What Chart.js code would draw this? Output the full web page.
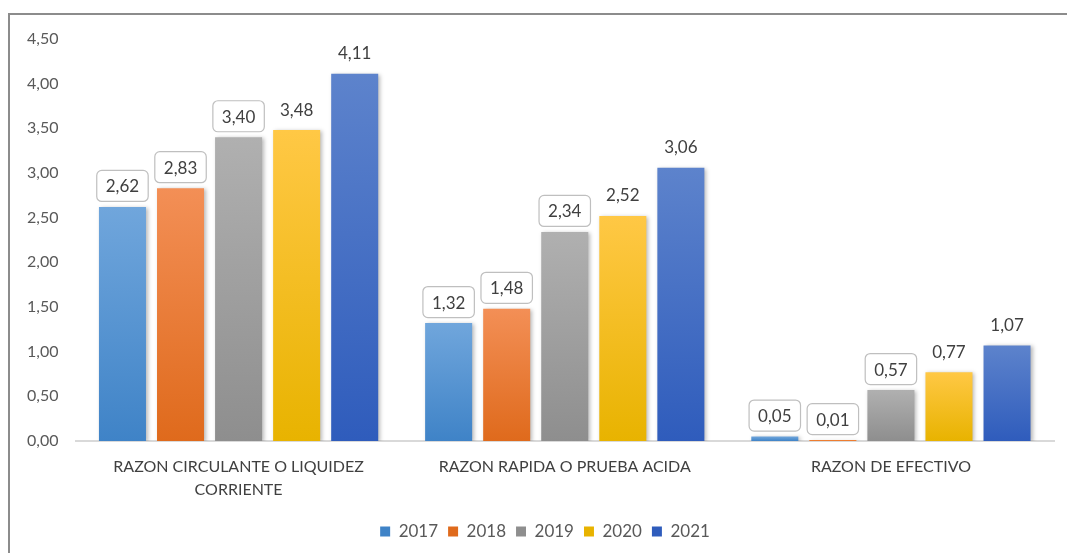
<!DOCTYPE html>
<html>
<head>
<meta charset="utf-8">
<script src="https://cdn.jsdelivr.net/npm/chart.js@4.4.1/dist/chart.umd.min.js"></script>
<style>
  html, body { margin: 0; padding: 0; background: #fff; }
  #wrap { position: relative; width: 1067px; height: 553px; overflow: hidden; }
  #marco { position: absolute; left: 8px; top: 13px; width: 1100px; height: 600px;
           border-top: 2px solid #8c8c8c; border-left: 2px solid #8c8c8c; }
  canvas { position: absolute; left: 0; top: 0; }
</style>
</head>
<body>
<div id="wrap">
  <div id="marco"></div>
  <canvas id="grafico" width="1067" height="553"></canvas>
</div>
<script>
// categorias y valores
const categorias = [
  ['RAZON CIRCULANTE O LIQUIDEZ', 'CORRIENTE'],
  'RAZON RAPIDA O PRUEBA ACIDA',
  'RAZON DE EFECTIVO'
];
const anios = ['2017', '2018', '2019', '2020', '2021'];
const v2017 = [2.62, 1.32, 0.05];
const v2018 = [2.83, 1.48, 0.01];
const v2019 = [3.40, 2.34, 0.57];
const v2020 = [3.48, 2.52, 0.77];
const v2021 = [4.11, 3.06, 1.07];
const ticksY = [0, 0.5, 1, 1.5, 2, 2.5, 3, 3.5, 4, 4.5];

// colores: base, arriba, abajo
const colores = [
  ['#5b9bd5', '#70a6dc', '#3f83c7'],
  ['#ed7d31', '#f38f56', '#df6a1c'],
  ['#a5a5a5', '#b0b0b0', '#8e8e8e'],
  ['#ffc000', '#ffc845', '#e8b300'],
  ['#4472c4', '#5d83cc', '#2f5cbc']
];
const conCaja = [true, true, true, false, false];

function degradado(i) {
  return (ctx) => {
    const c = colores[i];
    if (ctx.type !== 'data') return c[0];
    const chart = ctx.chart;
    if (!chart.chartArea || !chart.scales.y) return c[0];
    const y = chart.scales.y;
    const top = y.getPixelForValue(ctx.raw);
    const base = y.getPixelForValue(0);
    if (!isFinite(top) || base - top < 1) return c[0];
    const g = chart.ctx.createLinearGradient(0, top, 0, base);
    g.addColorStop(0, c[1]);
    g.addColorStop(1, c[2]);
    return g;
  };
}

const formato = v => v.toFixed(2).replace('.', ',');

// sombra de las barras
const sombra = {
  id: 'sombra',
  beforeDatasetsDraw(chart) {
    const ctx = chart.ctx;
    ctx.save();
    ctx.shadowColor = 'rgba(0,0,0,0.28)';
    ctx.shadowBlur = 4;
    ctx.shadowOffsetX = 2;
    ctx.shadowOffsetY = 1;
  },
  afterDatasetsDraw(chart) {
    chart.ctx.restore();
  }
};

// mueve la leyenda un poco a la derecha, como en el original
const correrLeyenda = {
  id: 'correrLeyenda',
  afterLayout(chart) {
    if (chart.legend) {
      chart.legend.left += 18;
      chart.legend.right += 18;
    }
  }
};

// etiquetas de datos
const etiquetas = {
  id: 'etiquetas',
  afterDatasetsDraw(chart) {
    const ctx = chart.ctx;
    ctx.save();
    ctx.font = '17px Lato';
    ctx.textAlign = 'center';
    ctx.textBaseline = 'middle';
    chart.data.datasets.forEach((ds, i) => {
      const meta = chart.getDatasetMeta(i);
      meta.data.forEach((bar, j) => {
        const txt = formato(ds.data[j]);
        const cy = bar.y - 21;
        if (conCaja[i]) {
          const w = ctx.measureText(txt).width + 18;
          const h = 31;
          ctx.beginPath();
          ctx.roundRect(bar.x - w / 2, cy - h / 2, w, h, 5);
          ctx.fillStyle = '#ffffff';
          ctx.fill();
          ctx.lineWidth = 1.2;
          ctx.strokeStyle = '#bfbfbf';
          ctx.stroke();
        }
        ctx.fillStyle = '#404040';
        ctx.fillText(txt, bar.x, cy + 1);
      });
    });
    ctx.restore();
  }
};

const series = [v2017, v2018, v2019, v2020, v2021];

new Chart(document.getElementById('grafico'), {
  type: 'bar',
  data: {
    labels: categorias,
    datasets: series.map((d, i) => ({
      label: anios[i],
      data: d,
      backgroundColor: degradado(i),
      borderWidth: 0,
      categoryPercentage: 0.89,
      barPercentage: 0.81
    }))
  },
  options: {
    responsive: false,
    animation: false,
    devicePixelRatio: 1,
    layout: { padding: { top: 39, right: 13, bottom: 3, left: 0 } },
    scales: {
      x: {
        grid: { display: false, drawTicks: false },
        border: { display: true, color: '#d9d9d9', width: 2 },
        ticks: {
          color: '#404040',
          font: { family: 'Lato', size: 16, lineHeight: 1.44 },
          padding: 14,
          maxRotation: 0
        },
        afterFit(s) { s.height = 72; }
      },
      y: {
        min: 0,
        max: 4.5,
        afterBuildTicks(s) { s.ticks = ticksY.map(v => ({ value: v })); },
        grid: { display: false, drawTicks: false },
        border: { display: false },
        ticks: {
          color: '#595959',
          font: { family: 'Lato', size: 16 },
          padding: 17,
          callback: v => formato(v)
        },
        afterFit(s) { s.width = 75.5; }
      }
    },
    plugins: {
      legend: {
        position: 'bottom',
        labels: {
          boxWidth: 10,
          boxHeight: 10,
          padding: 10,
          color: '#595959',
          font: { family: 'Lato', size: 17 }
        }
      },
      tooltip: { enabled: false }
    }
  },
  plugins: [sombra, correrLeyenda, etiquetas]
});
</script>
</body>
</html>
